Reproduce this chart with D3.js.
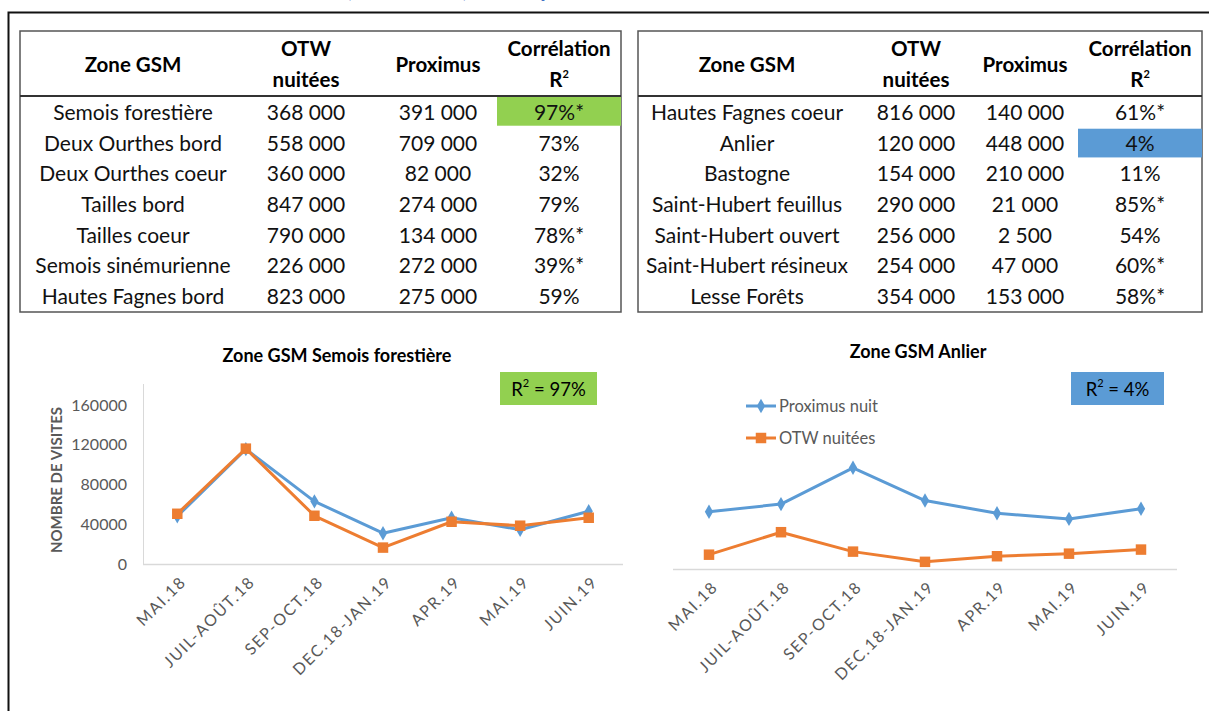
<!DOCTYPE html>
<html>
<head>
<meta charset="utf-8">
<script src="https://cdn.jsdelivr.net/npm/d3@7"></script>
<style>
  body { margin: 0; background: #fff; }
  svg { display: block; font-family: Lato, "Open Sans", sans-serif; }
</style>
</head>
<body>
<div id="canvas"></div>
<script>
// ---- data ----
const leftZones = ["Semois forestière", "Deux Ourthes bord", "Deux Ourthes coeur", "Tailles bord", "Tailles coeur", "Semois sinémurienne", "Hautes Fagnes bord"];
const leftOtw = ["368 000", "558 000", "360 000", "847 000", "790 000", "226 000", "823 000"];
const leftProx = ["391 000", "709 000", "82 000", "274 000", "134 000", "272 000", "275 000"];
const leftCorr = ["97%*", "73%", "32%", "79%", "78%*", "39%*", "59%"];

const rightZones = ["Hautes Fagnes coeur", "Anlier", "Bastogne", "Saint-Hubert feuillus", "Saint-Hubert ouvert", "Saint-Hubert résineux", "Lesse Forêts"];
const rightOtw = ["816 000", "120 000", "154 000", "290 000", "256 000", "254 000", "354 000"];
const rightProx = ["140 000", "448 000", "210 000", "21 000", "2 500", "47 000", "153 000"];
const rightCorr = ["61%*", "4%", "11%", "85%*", "54%", "60%*", "58%*"];

const periods = ["MAI.18", "JUIL-AOÛT.18", "SEP-OCT.18", "DEC.18-JAN.19", "APR.19", "MAI.19", "JUIN.19"];
const semoisProx = [48000, 115500, 63000, 31000, 46500, 34500, 53000];
const semoisOtw = [50500, 116000, 48500, 16500, 42500, 38500, 46500];
const anlierProx = [56000, 63500, 99000, 67000, 54500, 49000, 59000];
const anlierOtw = [14000, 36000, 17000, 7000, 12500, 15000, 19000];
const yTicks = [0, 40000, 80000, 120000, 160000];

const BLUE = "#5B9BD5", ORANGE = "#ED7D31", GREEN = "#92D050", GREY = "#595959";

const svg = d3.select("#canvas").append("svg")
  .attr("width", 1209).attr("height", 711);

// cut-off page title
svg.append("text")
  .attr("x", 346).attr("y", -3)
  .attr("fill", "#4472C4").attr("font-size", 22).attr("font-weight", "bold")
  .text("(2018-2019) et comparaison");

// outer frame
svg.append("path")
  .attr("d", "M8.5,711 V12.5 H1209")
  .attr("fill", "none").attr("stroke", "#111").attr("stroke-width", 2);

// ---- tables ----
function drawTable(t) {
  const g = svg.append("g");
  const rows = d3.scaleBand().domain(d3.range(t.zones.length)).range([97, 312]);
  const cols = t.cols;

  g.append("rect")
    .attr("x", t.x0).attr("y", 31).attr("width", t.x1 - t.x0).attr("height", 281)
    .attr("fill", "none").attr("stroke", "#555").attr("stroke-width", 1.5);

  // highlighted correlation cell
  g.append("rect")
    .attr("x", t.hlX).attr("y", rows(t.hlRow) + (t.hlRow === 0 ? 0 : 1))
    .attr("width", t.x1 - t.hlX).attr("height", rows.bandwidth() - 2)
    .attr("fill", t.hlColor);

  g.append("line")
    .attr("x1", t.x0).attr("x2", t.x1).attr("y1", 96).attr("y2", 96)
    .attr("stroke", "#333").attr("stroke-width", 2);

  // header
  const head = g.append("g").attr("font-weight", "bold").attr("font-size", 20.5)
    .attr("text-anchor", "middle").attr("fill", "#000");
  head.append("text").attr("x", cols[0]).attr("y", 72).text("Zone GSM");
  head.append("text").attr("x", cols[1]).attr("y", 56).text("OTW");
  head.append("text").attr("x", cols[1]).attr("y", 87).text("nuitées");
  head.append("text").attr("x", cols[2]).attr("y", 72).text("Proximus");
  head.append("text").attr("x", cols[3]).attr("y", 56).text("Corrélation");
  const r2 = head.append("text").attr("x", cols[3]).attr("y", 87);
  r2.append("tspan").text("R");
  r2.append("tspan").attr("font-size", 11).attr("dy", -9).text("2");

  const body = g.append("g").attr("font-size", 21).attr("text-anchor", "middle").attr("fill", "#111");
  [t.zones, t.otw, t.prox, t.corr].forEach((col, ci) => {
    body.selectAll(null).data(col).enter().append("text")
      .attr("x", cols[ci])
      .attr("y", (d, i) => rows(i) + rows.bandwidth() / 2)
      .attr("dy", "0.36em")
      .text(d => d);
  });
}

drawTable({ zones: leftZones, otw: leftOtw, prox: leftProx, corr: leftCorr,
  x0: 20, x1: 621, cols: [133, 306, 438, 559], hlRow: 0, hlX: 497, hlColor: GREEN });
drawTable({ zones: rightZones, otw: rightOtw, prox: rightProx, corr: rightCorr,
  x0: 638, x1: 1202, cols: [747, 916, 1025, 1140], hlRow: 1, hlX: 1078, hlColor: BLUE });

// ---- line charts ----
const diamond = d3.symbol().type(d3.symbolDiamond).size(60);
const square = d3.symbol().type(d3.symbolSquare).size(110);

function drawChart(c) {
  const g = svg.append("g");
  const x = d3.scalePoint().domain(periods).range(c.xRange).padding(0.5);
  const y = d3.scaleLinear().domain([0, 180000]).range([c.base, c.base - c.h]);

  g.append("text").attr("x", c.titleX).attr("y", c.titleY)
    .attr("text-anchor", "middle").attr("font-weight", "bold").attr("font-size", 18)
    .text(c.title);

  // baseline
  g.append("line").attr("x1", c.xRange[0]).attr("x2", c.xRange[1])
    .attr("y1", c.base + 0.5).attr("y2", c.base + 0.5)
    .attr("stroke", "#d9d9d9").attr("stroke-width", 1.5);

  if (c.yAxis) {
    g.append("line").attr("x1", c.xRange[0] + 0.5).attr("x2", c.xRange[0] + 0.5)
      .attr("y1", c.base - 180).attr("y2", c.base)
      .attr("stroke", "#d9d9d9").attr("stroke-width", 1);
    const yAxis = d3.axisLeft(y).tickValues(yTicks).tickSize(0).tickPadding(16).tickFormat(d3.format("d"));
    const ya = g.append("g").attr("transform", `translate(${c.xRange[0]},0)`).call(yAxis);
    ya.select(".domain").remove();
    ya.selectAll("text").attr("font-size", 16).attr("fill", GREY).attr("font-family", "Lato, sans-serif");
    g.append("text")
      .attr("transform", `translate(62,${c.base - 84}) rotate(-90)`)
      .attr("text-anchor", "middle").attr("font-size", 15).attr("font-weight", "bold")
      .attr("fill", GREY).text("NOMBRE DE VISITES");
  }

  // x labels
  g.selectAll(".xl").data(periods).enter().append("text")
    .attr("transform", d => `translate(${x(d) + 6},${c.base + 15}) rotate(-45)`)
    .attr("text-anchor", "end").attr("dy", "0.35em")
    .attr("font-size", 16).attr("letter-spacing", 1.6).attr("fill", GREY)
    .text(d => d);

  const line = d3.line().x((d, i) => x(periods[i])).y(d => y(d));

  [[c.prox, BLUE, diamond], [c.otw, ORANGE, square]].forEach(([vals, col, sym]) => {
    g.append("path").datum(vals).attr("d", line)
      .attr("fill", "none").attr("stroke", col).attr("stroke-width", 3)
      .attr("stroke-linejoin", "round");
    g.selectAll(null).data(vals).enter().append("path")
      .attr("transform", (d, i) => `translate(${x(periods[i])},${y(d)})`)
      .attr("d", sym).attr("fill", col);
  });

  // R² box
  g.append("rect").attr("x", c.box[0]).attr("y", 372)
    .attr("width", c.box[1] - c.box[0]).attr("height", 33).attr("fill", c.boxColor);
  const bt = g.append("text").attr("x", (c.box[0] + c.box[1]) / 2).attr("y", 396)
    .attr("text-anchor", "middle").attr("font-size", 18.5).attr("fill", "#000");
  bt.append("tspan").text("R");
  bt.append("tspan").attr("font-size", 11).attr("dy", -9).text("2");
  bt.append("tspan").attr("dy", 9).text(" = " + c.r2);

  if (c.legend) {
    const lg = g.append("g");
    [["Proximus nuit", BLUE, diamond, 406], ["OTW nuitées", ORANGE, square, 438]].forEach(([name, col, sym, ly]) => {
      lg.append("line").attr("x1", 746).attr("x2", 776).attr("y1", ly).attr("y2", ly)
        .attr("stroke", col).attr("stroke-width", 3);
      lg.append("path").attr("transform", `translate(761,${ly})`).attr("d", sym).attr("fill", col);
      lg.append("text").attr("x", 779).attr("y", ly).attr("dy", "0.35em")
        .attr("font-size", 16.5).attr("fill", GREY).text(name);
    });
  }
}

drawChart({ title: "Zone GSM Semois forestière", titleX: 337, titleY: 362,
  xRange: [143, 623], base: 564, h: 179, yAxis: true, prox: semoisProx, otw: semoisOtw,
  box: [500, 597], boxColor: GREEN, r2: "97%", legend: false });
drawChart({ title: "Zone GSM Anlier", titleX: 918, titleY: 358,
  xRange: [673, 1177], base: 569, h: 184, yAxis: false, prox: anlierProx, otw: anlierOtw,
  box: [1071, 1164], boxColor: BLUE, r2: "4%", legend: true });
</script>
</body>
</html>
